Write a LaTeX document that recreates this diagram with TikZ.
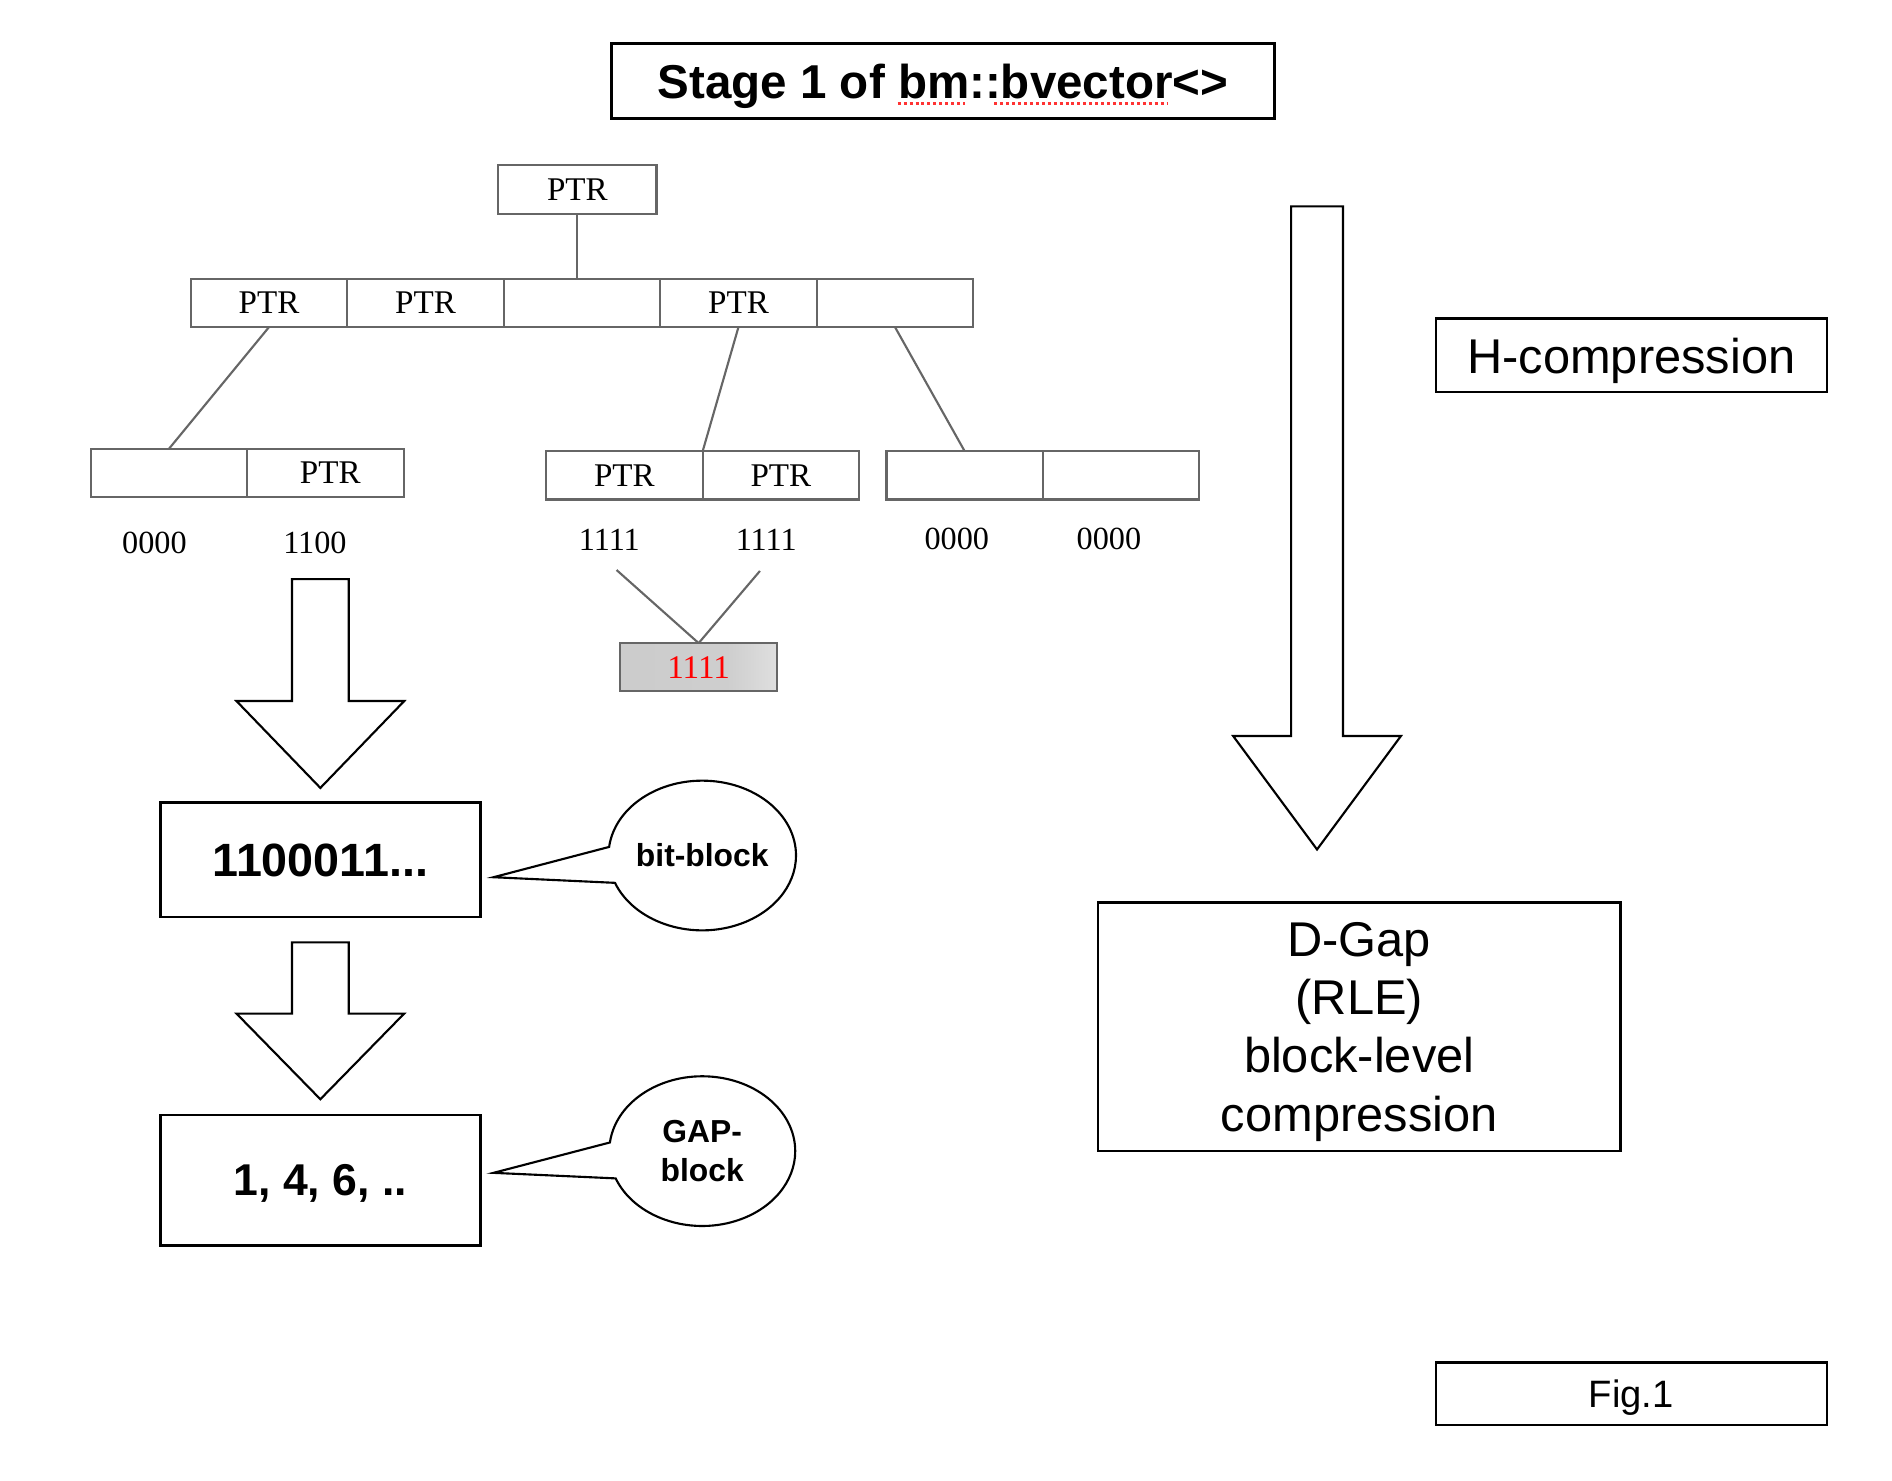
\documentclass[tikz,border=0pt]{standalone}
\usepackage{fontspec}
\setmainfont{Liberation Serif}
\setsansfont{Liberation Sans}
\usetikzlibrary{shapes.geometric,shapes.callouts,positioning}

\pgfdeclarehorizontalshading{cellfade}{100bp}{color(0bp)=(black!21); color(60bp)=(black!19); color(100bp)=(black!2)}

\begin{document}
\begin{tikzpicture}[x=0.01cm,y=-0.01cm,
  cell/.style={draw=black!60,line width=0.5pt,minimum width=1.296cm,minimum height=0.40cm,inner sep=0pt,outer sep=0pt,font=\fontsize{7.8}{9}\selectfont},
  bits/.style={font=\fontsize{7.6}{9}\selectfont,inner sep=3pt},
  link/.style={draw=black!60,line width=0.5pt},
  frame/.style={draw,line width=0.6pt,inner sep=0pt,text depth=0pt,align=center,font=\sffamily\fontsize{11.5}{13.7}\selectfont},
  bubble/.style={ellipse callout,draw,line width=0.5pt,minimum width=1.54cm,minimum height=1.24cm,inner sep=0pt,callout pointer arc=28,align=center,font=\sffamily\bfseries\fontsize{7.5}{9.2}\selectfont},
  hollow/.style={draw,line width=0.5pt,fill=white,line join=miter}]

\useasboundingbox (0,0) rectangle (1568,1227);

% title
\node[frame,minimum width=5.49cm,minimum height=0.62cm,font=\sffamily\bfseries\fontsize{11.2}{13}\selectfont] (title) at (781.5,67) {Stage 1 of bm::bvector<>};
\draw[red!80,line width=0.6pt,dash pattern=on 0.7pt off 0.7pt] (744,86) -- (800,86) (824,86) -- (968,86);

% tree of blocks
\node[cell,minimum width=1.31cm] (root) at (478.5,157) {PTR};
\node[cell] (n1) at (223,251) {PTR};
\node[cell,right=0pt of n1] (n2) {PTR};
\node[cell,right=0pt of n2] (n3) {};
\node[cell,right=0pt of n3] (n4) {PTR};
\node[cell,right=0pt of n4] (n5) {};

\node[cell] (l1) at (140,392) {};
\node[cell,right=0pt of l1] (l2) {\hspace{0.08cm}PTR};
\node[cell] (m1) at (517.5,394) {PTR};
\node[cell,right=0pt of m1] (m2) {PTR};
\node[cell] (r1) at (799.5,394) {};
\node[cell,right=0pt of r1] (r2) {};

\node[bits] (b1) at (128,450) {0000};
\node[bits] (b2) at (261,450) {1100};
\node[bits] (b3) at (505,447) {1111};
\node[bits] (b4) at (635,447) {1111};
\node[bits] (b5) at (793,447) {0000};
\node[bits] (b6) at (919,447) {0000};

\node[cell,shade,shading=cellfade,minimum width=1.30cm,text=red] (shared) at (579,553) {1111};

\draw[link] (root.south) -- (root.south |- n3.north);
\draw[link] (n1.south) -- (l1.north);
\draw[link] (n4.south) -- (m1.north east);
\draw[link] (n5.south) -- (r1.north);
\draw[link,shorten <=0.08cm] (b3.south) -- (shared.north);
\draw[link,shorten <=0.08cm] (b4.south) -- (shared.north);

% hollow arrows
\draw[hollow] (242,480) -- (289,480) -- (289,581) -- (335,581) -- (265.5,653) -- (196,581) -- (242,581) -- cycle;
\draw[hollow] (242,781) -- (289,781) -- (289,840) -- (335,840) -- (265.5,911) -- (196,840) -- (242,840) -- cycle;
\draw[hollow] (1070,171) -- (1113,171) -- (1113,610) -- (1161,610) -- (1091.5,704) -- (1022,610) -- (1070,610) -- cycle;

% block kinds
\node[frame,minimum width=2.65cm,minimum height=0.95cm,font=\sffamily\bfseries\fontsize{11}{13}\selectfont] (bitblk) at (265.5,712.5) {1100011...};
\node[frame,minimum width=2.65cm,minimum height=1.08cm,font=\sffamily\bfseries\fontsize{10.5}{13}\selectfont] (gapblk) at (265.5,978) {1, 4, 6, ..};

\coordinate (bittip) at (409,727);
\coordinate (gaptip) at (409,972);
\node[bubble,callout absolute pointer={(bittip)}] (bitnote) at (582,709) {bit-block};
\node[bubble,callout absolute pointer={(gaptip)}] (gapnote) at (582,954) {GAP-\\block};

% right side
\node[frame,minimum width=3.24cm,minimum height=0.61cm,font=\sffamily\fontsize{11.5}{14}\selectfont] (hcomp) at (1352,294.5) {H-compression};
\node[frame,minimum width=4.33cm,minimum height=2.06cm] (dgap) at (1126.5,851) {D-Gap\\(RLE)\\block-level\\compression};
\node[frame,minimum width=3.24cm,minimum height=0.52cm,font=\sffamily\fontsize{9}{11}\selectfont] (fig) at (1352,1155) {Fig.1};

\end{tikzpicture}
\end{document}
